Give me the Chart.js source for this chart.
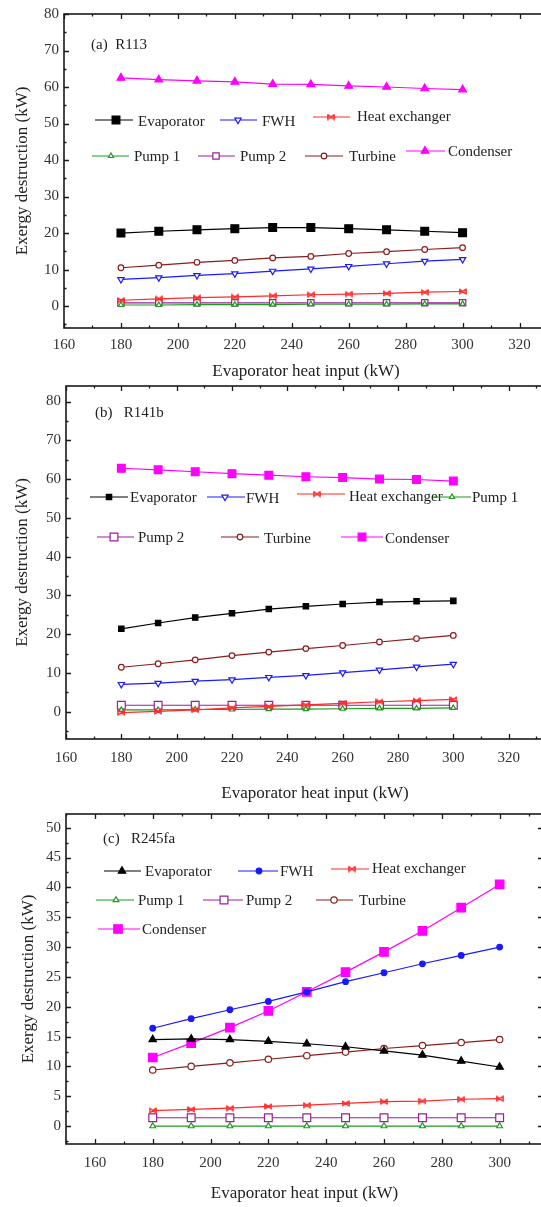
<!DOCTYPE html>
<html><head><meta charset="utf-8">
<script src="https://cdn.jsdelivr.net/npm/chart.js@4.4.1/dist/chart.umd.min.js"></script>
<style>
html,body{margin:0;padding:0;background:#fff;width:541px;height:1207px;overflow:hidden;position:relative}
canvas{position:absolute;left:0}
</style></head><body>
<canvas id="pa"></canvas>
<canvas id="pb"></canvas>
<canvas id="pc"></canvas>
<script>
// ---------------- DATA ----------------
const xValues = [180, 193.3, 206.7, 220, 233.3, 246.7, 260, 273.3, 286.7, 300];
const seriesNames = ['Evaporator', 'FWH', 'Heat exchanger', 'Pump 1', 'Pump 2', 'Turbine', 'Condenser'];
const xTitle = 'Evaporator heat input (kW)';
const yTitle = 'Exergy destruction (kW)';

// (a) R113
const r113Evaporator = [20.0, 20.5, 20.9, 21.2, 21.5, 21.5, 21.2, 20.9, 20.5, 20.1];
const r113FWH = [7.3, 7.8, 8.4, 8.9, 9.6, 10.2, 10.9, 11.6, 12.3, 12.8];
const r113HeatExchanger = [1.6, 2.0, 2.3, 2.5, 2.8, 3.1, 3.3, 3.5, 3.8, 4.0];
const r113Pump1 = [0.3, 0.3, 0.4, 0.4, 0.4, 0.5, 0.5, 0.5, 0.6, 0.6];
const r113Pump2 = [0.9, 0.9, 0.9, 0.9, 0.9, 0.9, 0.9, 0.9, 0.9, 0.9];
const r113Turbine = [10.5, 11.2, 12.0, 12.5, 13.2, 13.6, 14.4, 14.9, 15.5, 16.0];
const r113Condenser = [62.5, 62.0, 61.7, 61.4, 60.8, 60.7, 60.3, 60.0, 59.6, 59.3];

// (b) R141b
const r141bEvaporator = [21.4, 22.9, 24.3, 25.4, 26.5, 27.2, 27.8, 28.3, 28.5, 28.6];
const r141bFWH = [7.1, 7.4, 7.9, 8.3, 8.9, 9.4, 10.1, 10.8, 11.6, 12.3];
const r141bHeatExchanger = [-0.2, 0.1, 0.5, 1.0, 1.4, 1.8, 2.2, 2.6, 2.9, 3.2];
const r141bPump1 = [0.5, 0.5, 0.6, 0.6, 0.7, 0.7, 0.8, 0.9, 0.9, 1.0];
const r141bPump2 = [1.7, 1.7, 1.7, 1.7, 1.7, 1.7, 1.7, 1.7, 1.7, 1.7];
const r141bTurbine = [11.5, 12.4, 13.4, 14.5, 15.4, 16.3, 17.1, 18.0, 18.9, 19.7];
const r141bCondenser = [62.8, 62.4, 61.9, 61.4, 61.0, 60.6, 60.4, 60.0, 59.9, 59.5];

// (c) R245fa
const r245faEvaporator = [14.5, 14.6, 14.5, 14.2, 13.8, 13.3, 12.6, 11.9, 10.9, 9.9];
const r245faFWH = [16.4, 18.0, 19.5, 20.9, 22.5, 24.2, 25.7, 27.2, 28.6, 30.0];
const r245faHeatExchanger = [2.6, 2.8, 3.0, 3.3, 3.5, 3.8, 4.1, 4.2, 4.5, 4.6];
const r245faPump1 = [0, 0, 0, 0, 0, 0, 0, 0, 0, 0];
const r245faPump2 = [1.4, 1.4, 1.4, 1.4, 1.4, 1.4, 1.4, 1.4, 1.4, 1.4];
const r245faTurbine = [9.4, 10.0, 10.6, 11.2, 11.8, 12.4, 13.0, 13.5, 14.0, 14.5];
const r245faCondenser = [11.5, 13.9, 16.5, 19.3, 22.5, 25.8, 29.2, 32.7, 36.6, 40.5];

// tick labels
const xTickStep = 20;
const yTickStepAB = 10;
const yTickStepC = 5;

// ---------------- STYLE ----------------
const FONT = "'Liberation Serif', 'DejaVu Serif', serif";
const TXT = '#222';
const colors = ['#000000', '#1a1aff', '#ff2a2a', '#1e9a1e', '#9b1f9b', '#8b1c1c', '#ff00ff'];

function makeBowtie(color, w, h) {
  const c = document.createElement('canvas'); c.width = w; c.height = h;
  const g = c.getContext('2d'); g.strokeStyle = color; g.lineWidth = 1.3;
  g.beginPath();
  g.moveTo(0.8, 0.5); g.lineTo(0.8, h - 0.5);
  g.moveTo(w - 0.8, 0.5); g.lineTo(w - 0.8, h - 0.5);
  g.moveTo(0.8, 1); g.lineTo(w - 0.8, h - 1);
  g.moveTo(0.8, h - 1); g.lineTo(w - 0.8, 1);
  g.stroke();
  return c;
}
const bowtie = makeBowtie('#ff2a2a', 8, 7);

// marker spec: [pointStyle, radius, filled, rotation]
const markersA = [['rect', 5.5, true, 0], ['triangle', 3.6, false, 180], [bowtie, 4, false, 0], ['triangle', 3, false, 0], ['rect', 4.5, false, 0], ['circle', 2.8, false, 0], ['triangle', 4.5, true, 0]];
const markersB = [['rect', 3.8, true, 0], ['triangle', 3.6, false, 180], [bowtie, 4, false, 0], ['triangle', 3, false, 0], ['rect', 5.5, false, 0], ['circle', 2.8, false, 0], ['rect', 5.5, true, 0]];
const markersC = [['triangle', 4.3, true, 0], ['circle', 2.8, true, 0], [bowtie, 4, false, 0], ['triangle', 3.3, false, 0], ['rect', 5.5, false, 0], ['circle', 3.2, false, 0], ['rect', 6, true, 0]];

function buildDatasets(seriesList, markers) {
  return seriesList.map((vals, i) => {
    const m = markers[i];
    return {
      label: seriesNames[i],
      data: vals.map((v, k) => ({ x: xValues[k], y: v })),
      borderColor: colors[i],
      backgroundColor: m[2] ? colors[i] : '#ffffff',
      borderWidth: 1.2,
      pointStyle: m[0], pointRadius: m[1], pointRotation: m[3],
      pointBorderColor: colors[i], pointBackgroundColor: m[2] ? colors[i] : '#ffffff',
      pointBorderWidth: 1.2,
      tension: 0, fill: false
    };
  });
}

// legend layouts (page coords): [x1, x2, lineY, markerX, textX, textY]
const panels = [
  {
    id: 'pa', top: 0, height: 386, left: 64, right: 548, chartTop: 13, chartBottom: 328,
    xMin: 160, xMax: 330, yMin: -6, yMax: 80, yStep: yTickStepAB, yMinor: 5, rightTicks: false,
    tickPad: 8, xTitlePad: 4, yTitlePad: 12,
    label: '(a)  R113', labelX: 91, labelY: 45,
    series: [r113Evaporator, r113FWH, r113HeatExchanger, r113Pump1, r113Pump2, r113Turbine, r113Condenser],
    markers: markersA,
    legend: [[95, 133, 120, 116, 138, 122], [220, 257, 120, 238, 262, 122], [313, 350, 117, 331, 357, 117],
             [92, 129, 156, 111, 134, 157], [198, 235, 156, 216, 240, 157], [305, 343, 156, 324, 349, 157], [406, 445, 151, 425, 448, 152]]
  },
  {
    id: 'pb', top: 372, height: 440, left: 66, right: 564, chartTop: 10, chartBottom: 367,
    xMin: 160, xMax: 340, yMin: -7, yMax: 84, yStep: yTickStepAB, yMinor: 5, rightTicks: false,
    tickPad: 10, xTitlePad: 8, yTitlePad: 12,
    label: '(b)   R141b', labelX: 95, labelY: 413,
    series: [r141bEvaporator, r141bFWH, r141bHeatExchanger, r141bPump1, r141bPump2, r141bTurbine, r141bCondenser],
    markers: markersB,
    legend: [[90, 128, 497, 109, 130, 498], [207, 245, 497, 225, 246, 499], [297, 345, 494, 317, 349, 497], [433, 471, 497, 452, 472, 498],
             [97, 134, 537, 114, 138, 538], [221, 259, 537, 240, 264, 539], [341, 383, 537, 362, 385, 539]]
  },
  {
    id: 'pc', top: 800, height: 407, left: 66, right: 543, chartTop: 7, chartBottom: 344,
    xMin: 150, xMax: 315, yMin: -3, yMax: 52.3, yStep: yTickStepC, yMinor: 2.5, rightTicks: true,
    tickPad: 10, xTitlePad: 3, yTitlePad: 18,
    label: '(c)   R245fa', labelX: 103, labelY: 839,
    series: [r245faEvaporator, r245faFWH, r245faHeatExchanger, r245faPump1, r245faPump2, r245faTurbine, r245faCondenser],
    markers: markersC,
    legend: [[104, 141, 871, 122, 145, 872], [238, 278, 871, 259, 280, 872], [331, 369, 869, 352, 372, 869],
             [96, 134, 900, 116, 138, 901], [203, 243, 900, 224, 246, 901], [316, 353, 900, 334, 359, 901], [98, 140, 929, 118, 142, 930]]
  }
];

const framePlugin = {
  id: 'frame',
  afterDatasetsDraw(chart) {
    const p = chart.options.plugins.frame;
    const { ctx, chartArea: a, scales: { x, y } } = chart;
    ctx.save();
    ctx.strokeStyle = '#1a1a1a';
    ctx.lineWidth = 1.6;
    ctx.strokeRect(a.left, a.top, a.right - a.left, a.bottom - a.top);
    ctx.lineWidth = 1.3;
    ctx.beginPath();
    const xs = 10;
    for (let v = Math.ceil(x.min / xs) * xs; v <= x.max + 1e-9; v += xs) {
      const px = Math.round(x.getPixelForValue(v)) + 0.5;
      const major = Math.abs(v % xTickStep) < 1e-6;
      const L = major ? 5 : 2.5;
      ctx.moveTo(px, a.bottom); ctx.lineTo(px, a.bottom - L);
      ctx.moveTo(px, a.top); ctx.lineTo(px, a.top + L);
    }
    for (let v = Math.ceil(y.min / p.yMinor) * p.yMinor; v <= y.max + 1e-9; v += p.yMinor) {
      const py = Math.round(y.getPixelForValue(v)) + 0.5;
      const major = Math.abs(v % p.yStep) < 1e-6;
      const L = major ? 5 : 2.5;
      ctx.moveTo(a.left, py); ctx.lineTo(a.left + L, py);
      if (p.rightTicks && major) { ctx.moveTo(a.right, py); ctx.lineTo(a.right - L, py); }
    }
    ctx.stroke();
    ctx.restore();
  }
};

const legendPlugin = {
  id: 'customLegend',
  afterDraw(chart) {
    const p = chart.options.plugins.customLegend;
    const ctx = chart.ctx;
    ctx.save();
    ctx.font = '15px ' + FONT;
    ctx.fillStyle = TXT;
    ctx.textBaseline = 'middle';
    ctx.textAlign = 'left';
    ctx.fillText(p.label, p.labelX, p.labelY - p.top);
    chart.data.datasets.forEach((ds, i) => {
      const L = p.legend[i];
      const off = p.top;
      ctx.strokeStyle = ds.borderColor;
      ctx.lineWidth = 1.2;
      ctx.beginPath();
      ctx.moveTo(L[0], L[2] - off); ctx.lineTo(L[1], L[2] - off);
      ctx.stroke();
      ctx.fillStyle = ds.pointBackgroundColor;
      ctx.strokeStyle = ds.pointBorderColor;
      ctx.lineWidth = 1.2;
      Chart.helpers.drawPoint(ctx, { pointStyle: ds.pointStyle, rotation: ds.pointRotation, radius: ds.pointRadius, borderWidth: 1.2 }, L[3], L[2] - off);
      ctx.fillStyle = TXT;
      ctx.fillText(ds.label, L[4], L[5] - off);
    });
    ctx.restore();
  }
};

panels.forEach(p => {
  const cv = document.getElementById(p.id);
  cv.width = 600; cv.height = p.height;
  cv.style.width = '600px'; cv.style.height = p.height + 'px'; cv.style.top = p.top + 'px';
  new Chart(cv, {
    type: 'line',
    data: { datasets: buildDatasets(p.series, p.markers) },
    plugins: [framePlugin, legendPlugin],
    options: {
      responsive: false, animation: false, devicePixelRatio: 1,
      layout: { autoPadding: false, padding: { top: p.chartTop, right: 600 - p.right, left: 0, bottom: 0 } },
      plugins: {
        legend: { display: false }, tooltip: { enabled: false },
        frame: { yMinor: p.yMinor, yStep: p.yStep, rightTicks: p.rightTicks },
        customLegend: { legend: p.legend, top: p.top, label: p.label, labelX: p.labelX, labelY: p.labelY }
      },
      scales: {
        x: {
          type: 'linear', min: p.xMin, max: p.xMax,
          grid: { display: false, drawTicks: false }, border: { display: false },
          ticks: { stepSize: xTickStep, includeBounds: false, padding: p.tickPad, maxRotation: 0, autoSkip: false,
                   font: { family: FONT, size: 15 }, color: '#333' },
          title: { display: true, text: xTitle, font: { family: FONT, size: 17 }, color: TXT, padding: { top: 0, bottom: p.xTitlePad } },
          afterFit: s => { s.height = p.height - p.chartBottom; }
        },
        y: {
          type: 'linear', min: p.yMin, max: p.yMax,
          grid: { display: false, drawTicks: false }, border: { display: false },
          ticks: { stepSize: p.yStep, includeBounds: false, padding: 5, autoSkip: false,
                   font: { family: FONT, size: 15 }, color: '#333' },
          title: { display: true, text: yTitle, font: { family: FONT, size: 17 }, color: TXT, padding: { top: p.yTitlePad, bottom: 0 } },
          afterFit: s => { s.width = p.left; }
        }
      }
    }
  });
});
</script>
</body></html>
